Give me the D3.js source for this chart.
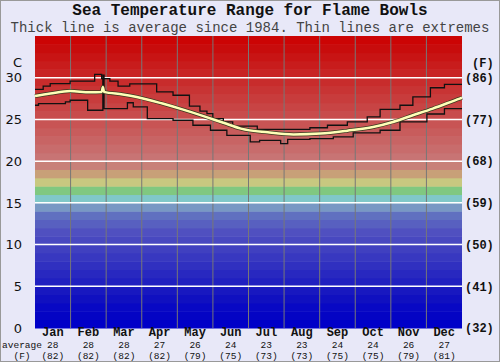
<!DOCTYPE html>
<html>
<head>
<meta charset="utf-8">
<script src="https://cdn.jsdelivr.net/npm/d3@7"></script>
<style>
  body { margin: 0; background: #e8e8f8; }
  svg { display: block; }
</style>
</head>
<body>
<div id="chart"></div>
<script>
// Month labels and monthly averages
const months = ['Jan', 'Feb', 'Mar', 'Apr', 'May', 'Jun', 'Jul', 'Aug', 'Sep', 'Oct', 'Nov', 'Dec'];
const avgC = [28, 28, 28, 27, 26, 24, 23, 23, 24, 24, 26, 27];
const avgF = [82, 82, 82, 82, 79, 75, 73, 73, 75, 75, 79, 81];
const cTicks = [0, 5, 10, 15, 20, 25, 30];
const fTicks = [32, 41, 50, 59, 68, 77, 86];

// Average line (day of year, deg C)
const avgDays = [0, 13, 30, 47, 57, 58, 59, 75, 87, 109, 126, 144, 161, 176, 199, 221, 244, 267, 289, 306, 323, 340, 363, 365];
const avgTemp = [27.8, 28.1, 28.4, 28.25, 28.3, 28.9, 28.3, 28.0, 27.7, 26.9, 26.2, 25.4, 24.6, 23.9, 23.45, 23.2, 23.3, 23.65, 24.1, 24.7, 25.5, 26.3, 27.5, 27.6];

// Upper extreme (step line)
const maxDays = [0, 7, 13, 30, 51, 57, 64, 71, 81, 104, 118, 132, 141, 147, 152, 161, 169, 190, 235, 250, 267, 284, 295, 312, 323, 338, 350, 365];
const maxTemp = [28.6, 29.0, 29.3, 29.6, 30.4, 29.9, 29.6, 29.0, 29.25, 28.3, 27.9, 26.6, 26.0, 25.7, 25.1, 24.7, 24.2, 23.8, 24.0, 24.3, 24.7, 25.3, 26.2, 26.7, 27.7, 28.8, 29.2, 29.2];

// Lower extreme (step line)
const minDays = [0, 3, 26, 30, 45, 58, 59, 79, 84, 96, 118, 135, 150, 164, 184, 192, 210, 216, 235, 255, 272, 295, 312, 335, 350, 365];
const minTemp = [26.7, 26.9, 27.1, 27.3, 26.1, 30.3, 26.3, 27.0, 26.5, 25.1, 24.9, 24.3, 23.7, 23.1, 22.3, 22.5, 22.1, 22.6, 22.7, 22.9, 23.4, 23.7, 24.7, 25.65, 26.3, 26.3];

// colour of each 1 degree band, from 0 up to 35
const bandColors = ['#0000c8', '#0404c4', '#0808c4', '#1010c0', '#1818c0', '#2020c0', '#2828c0', '#3030c0',
  '#3838c0', '#4040c0', '#4848c0', '#5050c0', '#5860c0', '#6070c0', '#7898c4', '#80c8c8', '#80c880',
  '#c8c880', '#c8a078', '#c88078', '#c87474', '#c86c6c', '#c86464', '#c85c5c', '#c85454', '#c84c4c',
  '#c84444', '#c83c3c', '#c83434', '#c82c2c', '#c82424', '#c81c1c', '#c81414', '#c80c0c', '#cc0404'];

const W = 500, H = 362;
const m = { left: 35, right: 38, top: 36, bottom: 34 };

const svg = d3.select('#chart').append('svg')
  .attr('width', W)
  .attr('height', H);

svg.append('rect')
  .attr('x', 0.5).attr('y', 0.5)
  .attr('width', W - 1).attr('height', H - 1)
  .attr('fill', '#e8e8f8')
  .attr('stroke', '#999');

const x = d3.scaleLinear().domain([0, 365]).range([m.left, W - m.right]);
const xm = d3.scaleBand().domain(months).range([m.left, W - m.right]);
const y = d3.scaleLinear().domain([0, 35]).range([H - m.bottom, m.top]);
const yF = d3.scaleLinear().domain([32, 95]).range([H - m.bottom, m.top]);

// colour bands
svg.append('g').selectAll('rect')
  .data(bandColors)
  .enter()
  .append('rect')
  .attr('x', m.left)
  .attr('width', W - m.right - m.left)
  .attr('y', (d, i) => y(i + 1))
  .attr('height', (d, i) => y(i) - y(i + 1) + 0.5)
  .attr('fill', d => d);

// month dividers
svg.append('g').selectAll('line')
  .data(months.slice(1))
  .enter()
  .append('line')
  .attr('x1', d => xm(d)).attr('x2', d => xm(d))
  .attr('y1', y(35)).attr('y2', y(0))
  .attr('stroke', '#777')
  .attr('stroke-width', 1);

// white lines every 5 degrees
svg.append('g').selectAll('line')
  .data(cTicks.slice(1))
  .enter()
  .append('line')
  .attr('x1', m.left).attr('x2', W - m.right)
  .attr('y1', d => y(d)).attr('y2', d => y(d))
  .attr('stroke', '#fff')
  .attr('stroke-width', 1.5);

const stepLine = d3.line().curve(d3.curveStepAfter).x(d => x(d[0])).y(d => y(d[1]));
const avgLine = d3.line().curve(d3.curveMonotoneX).x(d => x(d[0])).y(d => y(d[1]));

svg.append('path')
  .datum(d3.zip(maxDays, maxTemp))
  .attr('d', stepLine)
  .attr('fill', 'none')
  .attr('stroke', '#111')
  .attr('stroke-width', 1.3);

svg.append('path')
  .datum(d3.zip(minDays, minTemp))
  .attr('d', stepLine)
  .attr('fill', 'none')
  .attr('stroke', '#111')
  .attr('stroke-width', 1.3);

const avgData = d3.zip(avgDays, avgTemp);
svg.append('path')
  .datum(avgData)
  .attr('d', avgLine)
  .attr('fill', 'none')
  .attr('stroke', '#3a3a20')
  .attr('stroke-width', 4);
svg.append('path')
  .datum(avgData)
  .attr('d', avgLine)
  .attr('fill', 'none')
  .attr('stroke', '#ffffb8')
  .attr('stroke-width', 2.5);

// titles
svg.append('text')
  .attr('x', W / 2).attr('y', 15)
  .attr('text-anchor', 'middle')
  .attr('font-family', 'Liberation Mono, monospace')
  .attr('font-weight', 'bold')
  .attr('font-size', '16px')
  .attr('fill', '#111')
  .text('Sea Temperature Range for Flame Bowls');

svg.append('text')
  .attr('x', W / 2).attr('y', 31.5)
  .attr('text-anchor', 'middle')
  .attr('font-family', 'Liberation Mono, monospace')
  .attr('font-size', '14px')
  .attr('fill', '#444')
  .text('Thick line is average since 1984. Thin lines are extremes');

// left axis (C)
const leftAxis = svg.append('g')
  .attr('font-family', 'DejaVu Sans, sans-serif')
  .attr('font-size', '13px')
  .attr('fill', '#111')
  .attr('text-anchor', 'end');
leftAxis.selectAll('text')
  .data(cTicks)
  .enter()
  .append('text')
  .attr('x', 22)
  .attr('y', d => y(d))
  .attr('dy', '0.36em')
  .text(d => d);
leftAxis.append('text')
  .attr('x', 22).attr('y', 62)
  .attr('dy', '0.36em')
  .text('C');

// right axis (F)
const rightAxis = svg.append('g')
  .attr('font-family', 'Liberation Mono, monospace')
  .attr('font-weight', 'bold')
  .attr('font-size', '12px')
  .attr('fill', '#111');
rightAxis.selectAll('text')
  .data(fTicks)
  .enter()
  .append('text')
  .attr('x', 465)
  .attr('y', d => yF(d))
  .attr('dy', '0.36em')
  .text(d => '(' + d + ')');
rightAxis.append('text')
  .attr('x', 472).attr('y', 63)
  .attr('dy', '0.36em')
  .text('(F)');

// month labels and averages underneath
const bottom = svg.append('g')
  .attr('font-family', 'Liberation Mono, monospace')
  .attr('fill', '#111')
  .attr('text-anchor', 'middle');
bottom.selectAll('text.month')
  .data(months)
  .enter()
  .append('text')
  .attr('class', 'month')
  .attr('x', d => xm(d) + xm.bandwidth() / 2)
  .attr('y', 335.5)
  .attr('font-size', '12px')
  .attr('font-weight', 'bold')
  .text(d => d);
bottom.selectAll('text.avgc')
  .data(avgC)
  .enter()
  .append('text')
  .attr('class', 'avgc')
  .attr('x', (d, i) => xm(months[i]) + xm.bandwidth() / 2)
  .attr('y', 347.5)
  .attr('font-size', '9.5px')
  .text(d => d);
bottom.selectAll('text.avgf')
  .data(avgF)
  .enter()
  .append('text')
  .attr('class', 'avgf')
  .attr('x', (d, i) => xm(months[i]) + xm.bandwidth() / 2)
  .attr('y', 358.5)
  .attr('font-size', '9.5px')
  .text(d => '(' + d + ')');
bottom.append('text')
  .attr('x', 22).attr('y', 347.5)
  .attr('font-size', '9.5px')
  .text('average');
bottom.append('text')
  .attr('x', 22).attr('y', 358.5)
  .attr('font-size', '9.5px')
  .text('(F)');
</script>
</body>
</html>
